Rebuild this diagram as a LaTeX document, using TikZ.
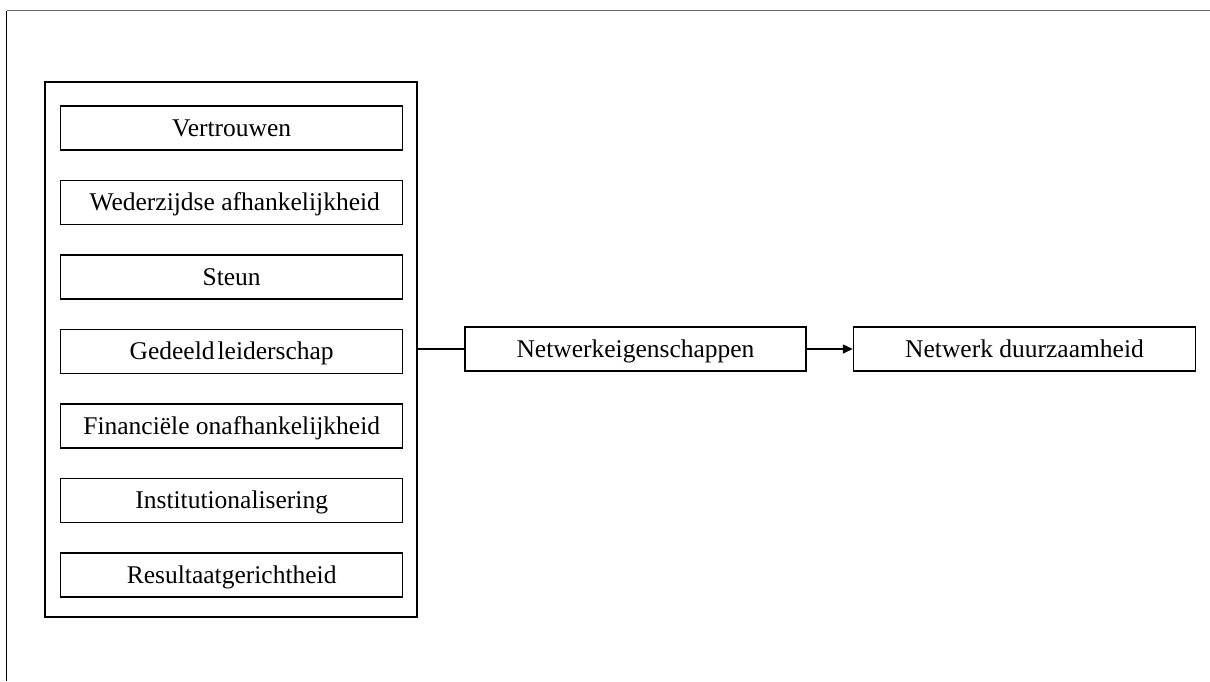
\documentclass[tikz,border=0pt]{standalone}
\usepackage{fontspec}
\setmainfont{Liberation Serif}
\usetikzlibrary{arrows.meta}
\begin{document}
\begin{tikzpicture}[x=1pt,y=-1pt,
  box/.style={draw,line width=1.5pt,minimum height=44pt,inner sep=0pt,text height=16.8pt,text depth=0pt,font=\fontsize{25.5}{30}\selectfont},
  item/.style={box,minimum width=342pt},
  conn/.style={line width=1.5pt}]
\useasboundingbox (0,0) rectangle (1210,681);
\draw[gray!80!black,line width=1.5pt] (6.5,10.7) -- (1210,10.7);
\draw[line width=1.4pt] (6.5,10.7) -- (6.5,681);
\draw[line width=1.7pt] (45.3,81.7) rectangle (416.7,617);
\node[item] (v) at (231.7,128) {Vertrouwen};
\node[item] (w) at (231.7,202.5) {\hspace{6pt}Wederzijdse afhankelijkheid};
\node[item] (s) at (231.7,277) {Steun};
\node[item] (g) at (231.7,351.5) {Gedeeld\hspace{3pt}leiderschap};
\node[item] (f) at (231.7,426) {Financiële onafhankelijkheid};
\node[item] (i) at (231.7,500.5) {Institutionalisering};
\node[item] (r) at (231.7,575) {Resultaatgerichtheid};
\coordinate (o) at (416.7,349);
\node[box,minimum width=341pt] (n) at (635.5,349) {Netwerkeigenschappen};
\node[box,minimum width=342pt] (d) at (1024.5,349) {Netwerk duurzaamheid};
\draw[conn] (o) -- (n.west);
\draw[conn,-{Triangle[length=10pt,width=9pt]}] (n.east) -- (d.west);
\end{tikzpicture}
\end{document}
